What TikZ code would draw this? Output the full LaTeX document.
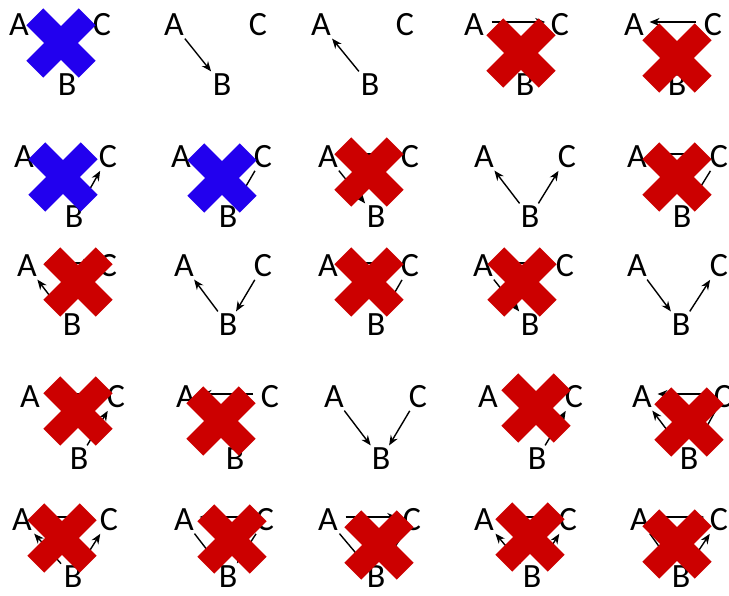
\documentclass[tikz,border=0pt]{standalone}
\usepackage{fontspec}
\setmainfont{Carlito}
\usetikzlibrary{arrows.meta}
\definecolor{crossBlue}{RGB}{34,0,238}
\definecolor{crossRed}{RGB}{204,0,0}
\begin{document}
\begin{tikzpicture}[x=1pt,y=-1pt,
  letterNode/.style={font=\fontsize{34}{34}\selectfont, inner sep=2.5pt},
  arrowLink/.style={line width=1.4pt, -{Stealth[length=10pt,width=8pt]}},
  topLink/.style={arrowLink, shorten <=5pt, shorten >=3pt, transform canvas={yshift=3pt}},
  crossMark/.pic={
    \fill[#1,rotate=45] (-37,-12) rectangle (37,12);
    \fill[#1,rotate=-45] (-37,-12) rectangle (37,12);
  }
]
\useasboundingbox (0,0) rectangle (729,595);
% row 1
\node[letterNode] (a11) at (19,25){A}; \node[letterNode] (c11) at (102,25){C}; \node[letterNode] (b11) at (67,85){B};
\node[letterNode] (a12) at (174,25){A}; \node[letterNode] (c12) at (258,25){C}; \node[letterNode] (b12) at (222,85){B};
\node[letterNode] (a13) at (321,25){A}; \node[letterNode] (c13) at (405,25){C}; \node[letterNode] (b13) at (370,85){B};
\node[letterNode] (a14) at (474,25){A}; \node[letterNode] (c14) at (560,25){C}; \node[letterNode] (b14) at (525,85){B};
\node[letterNode] (a15) at (634,25){A}; \node[letterNode] (c15) at (713,25){C}; \node[letterNode] (b15) at (677,85){B};
% row 2
\node[letterNode] (a21) at (24,157){A}; \node[letterNode] (c21) at (108,157){C}; \node[letterNode] (b21) at (74,217){B};
\node[letterNode] (a22) at (181,157){A}; \node[letterNode] (c22) at (263,157){C}; \node[letterNode] (b22) at (228,217){B};
\node[letterNode] (a23) at (328,157){A}; \node[letterNode] (c23) at (410,157){C}; \node[letterNode] (b23) at (376,217){B};
\node[letterNode] (a24) at (484,157){A}; \node[letterNode] (c24) at (567,157){C}; \node[letterNode] (b24) at (530,217){B};
\node[letterNode] (a25) at (637,157){A}; \node[letterNode] (c25) at (719,157){C}; \node[letterNode] (b25) at (682,217){B};
% row 3
\node[letterNode] (a31) at (27,266){A}; \node[letterNode] (c31) at (108,266){C}; \node[letterNode] (b31) at (72,325){B};
\node[letterNode] (a32) at (184,266){A}; \node[letterNode] (c32) at (263,266){C}; \node[letterNode] (b32) at (228,325){B};
\node[letterNode] (a33) at (328,266){A}; \node[letterNode] (c33) at (410,266){C}; \node[letterNode] (b33) at (376,325){B};
\node[letterNode] (a34) at (483,266){A}; \node[letterNode] (c34) at (565,266){C}; \node[letterNode] (b34) at (530,325){B};
\node[letterNode] (a35) at (637,266){A}; \node[letterNode] (c35) at (719,266){C}; \node[letterNode] (b35) at (681,325){B};
% row 4
\node[letterNode] (a41) at (30,397){A}; \node[letterNode] (c41) at (116,397){C}; \node[letterNode] (b41) at (79,459){B};
\node[letterNode] (a42) at (186,397){A}; \node[letterNode] (c42) at (270,397){C}; \node[letterNode] (b42) at (235,459){B};
\node[letterNode] (a43) at (334,397){A}; \node[letterNode] (c43) at (418,397){C}; \node[letterNode] (b43) at (381,459){B};
\node[letterNode] (a44) at (488,397){A}; \node[letterNode] (c44) at (574,397){C}; \node[letterNode] (b44) at (537,459){B};
\node[letterNode] (a45) at (642,397){A}; \node[letterNode] (c45) at (723,397){C}; \node[letterNode] (b45) at (689,459){B};
% row 5
\node[letterNode] (a51) at (22,520){A}; \node[letterNode] (c51) at (109,520){C}; \node[letterNode] (b51) at (73,577){B};
\node[letterNode] (a52) at (184,520){A}; \node[letterNode] (c52) at (265,520){C}; \node[letterNode] (b52) at (228,577){B};
\node[letterNode] (a53) at (328,520){A}; \node[letterNode] (c53) at (412,520){C}; \node[letterNode] (b53) at (376,577){B};
\node[letterNode] (a54) at (484,520){A}; \node[letterNode] (c54) at (568,520){C}; \node[letterNode] (b54) at (532,577){B};
\node[letterNode] (a55) at (640,520){A}; \node[letterNode] (c55) at (719,520){C}; \node[letterNode] (b55) at (681,577){B};
% arrows
\draw[arrowLink] (a12)--(b12);
\draw[arrowLink] (b13)--(a13);
\draw[topLink] (a14)--(c14);
\draw[topLink] (c15)--(a15);
\draw[arrowLink] (b21)--(c21);
\draw[arrowLink] (c22)--(b22);
\draw[arrowLink] (a23)--(b23); \draw[topLink] (a23)--(c23);
\draw[arrowLink] (b24)--(a24); \draw[arrowLink] (b24)--(c24);
\draw[topLink] (a25)--(c25); \draw[arrowLink] (c25)--(b25);
\draw[arrowLink] (b31)--(a31); \draw[topLink] (a31)--(c31);
\draw[arrowLink] (b32)--(a32); \draw[arrowLink] (c32)--(b32);
\draw[topLink] (c33)--(a33); \draw[arrowLink] (c33)--(b33);
\draw[arrowLink] (a34)--(b34); \draw[topLink] (c34)--(a34);
\draw[arrowLink] (a35)--(b35); \draw[arrowLink] (b35)--(c35);
\draw[topLink] (a41)--(c41); \draw[arrowLink] (b41)--(c41);
\draw[topLink] (c42)--(a42);
\draw[arrowLink] (a43)--(b43); \draw[arrowLink] (c43)--(b43);
\draw[arrowLink] (b44)--(c44);
\draw[topLink] (c45)--(a45); \draw[arrowLink] (b45)--(a45); \draw[arrowLink] (c45)--(b45);
\draw[topLink] (c51)--(a51); \draw[arrowLink] (b51)--(a51); \draw[arrowLink] (b51)--(c51);
\draw[topLink] (c52)--(a52); \draw[arrowLink] (a52)--(b52); \draw[arrowLink] (c52)--(b52);
\draw[topLink] (a53)--(c53); \draw[arrowLink] (a53)--(b53); \draw[arrowLink] (c53)--(b53);
\draw[topLink] (a54)--(c54); \draw[arrowLink] (b54)--(a54); \draw[arrowLink] (b54)--(c54);
\draw[topLink] (a55)--(c55); \draw[arrowLink] (a55)--(b55); \draw[arrowLink] (b55)--(c55);
% crosses
\pic at (61,43) {crossMark=crossBlue};
\pic at (63,177) {crossMark=crossBlue};
\pic at (222,178) {crossMark=crossBlue};
\pic at (521,53) {crossMark=crossRed};
\pic at (677,58) {crossMark=crossRed};
\pic at (369,172) {crossMark=crossRed};
\pic at (677,177) {crossMark=crossRed};
\pic at (78,282) {crossMark=crossRed};
\pic at (369,282) {crossMark=crossRed};
\pic at (522,282) {crossMark=crossRed};
\pic at (78,411) {crossMark=crossRed};
\pic at (221,421) {crossMark=crossRed};
\pic at (536,408) {crossMark=crossRed};
\pic at (689,422) {crossMark=crossRed};
\pic at (62,538) {crossMark=crossRed};
\pic at (232,539) {crossMark=crossRed};
\pic at (379,545) {crossMark=crossRed};
\pic at (530,537) {crossMark=crossRed};
\pic at (677,544) {crossMark=crossRed};
\end{tikzpicture}
\end{document}
